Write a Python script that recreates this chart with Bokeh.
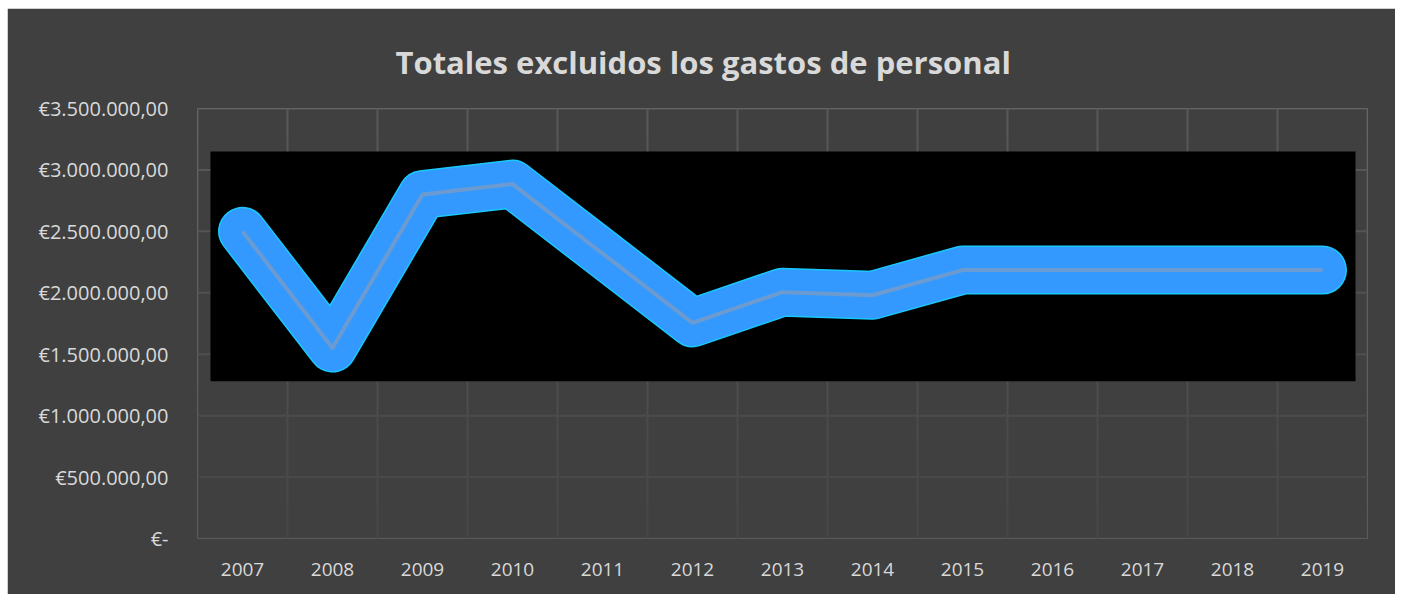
from bokeh.plotting import figure
from bokeh.models import FixedTicker, Range1d
from bokeh.embed import file_html
from bokeh.resources import INLINE

years = ["2007", "2008", "2009", "2010", "2011", "2012", "2013",
         "2014", "2015", "2016", "2017", "2018", "2019"]
totals = [2500000, 1550000, 2800000, 2885000, 2320000, 1755000, 2005000,
          1980000, 2185000, 2185000, 2185000, 2185000, 2185000]
y_ticks = [0, 500000, 1000000, 1500000, 2000000, 2500000, 3000000, 3500000]
y_labels = ["€-", "€500.000,00", "€1.000.000,00", "€1.500.000,00", "€2.000.000,00",
            "€2.500.000,00", "€3.000.000,00", "€3.500.000,00"]
title_text = "Totales excluidos los gastos de personal"

BG = "#404040"
TXT = "#d9d9d9"
FONT = "Open Sans"

xs = list(range(len(years)))
p = figure(width=1388, height=586, output_backend="svg", toolbar_location=None,
           x_range=Range1d(-0.5, len(years) - 0.5), y_range=Range1d(0, 3500000))
p.margin = (8, 0, 0, 7)
p.background_fill_color = BG
p.border_fill_color = BG
p.outline_line_color = None
p.min_border_left = 190
p.min_border_right = 28
p.min_border_top = 100
p.min_border_bottom = 56

p.title.text = title_text
p.title.align = "left"
p.title.text_color = TXT
p.title.text_font = FONT
p.title.text_font_size = "31px"
p.title.text_font_style = "bold"
p.title.standoff = 52
p.title.offset = 198

p.xgrid.grid_line_color = None
p.ygrid.grid_line_color = None

# gridlines with gradient fade (top brighter)
def shade(t):
    a = int(0x5a - (0x5a - 0x47) * t)
    return "#%02x%02x%02x" % (a, a, a)

for i, yv in enumerate(y_ticks):
    t = 1 - i / (len(y_ticks) - 1)
    p.segment(x0=-0.5, x1=len(years) - 0.5, y0=yv, y1=yv, line_color=shade(t), line_width=2)
nseg = 14
top = y_ticks[-1]
for k in range(len(years) + 1):
    xb = k - 0.5
    for s in range(nseg):
        y1 = top * (1 - s / nseg)
        y0 = top * (1 - (s + 1) / nseg)
        p.segment(x0=xb, x1=xb, y0=y0, y1=y1, line_color=shade((s + 0.5) / nseg), line_width=2)

# black backdrop panel behind the series
p.quad(left=-0.356, right=12.367, bottom=1280000, top=3150000,
       fill_color="black", line_color=None)

p.line(xs, totals, line_color="#19c8ff", line_width=49, line_join="round", line_cap="round")
p.line(xs, totals, line_color="#3399ff", line_width=46, line_join="round", line_cap="round")
p.line(xs, totals, line_color="#6b9bd0", line_width=4, line_join="round", line_cap="butt")

p.yaxis.ticker = FixedTicker(ticks=y_ticks)
p.yaxis.major_label_overrides = {t: l for t, l in zip(y_ticks, y_labels)}
p.xaxis.ticker = FixedTicker(ticks=xs)
p.xaxis.major_label_overrides = {i: y for i, y in enumerate(years)}
for ax in (p.xaxis, p.yaxis):
    ax.axis_line_color = None
    ax.major_tick_line_color = None
    ax.minor_tick_line_color = None
    ax.major_label_text_color = TXT
    ax.major_label_text_font = FONT
p.yaxis.major_label_text_font_size = "20px"
p.xaxis.major_label_text_font_size = "19px"
p.yaxis.major_label_standoff = 23
p.xaxis.major_label_standoff = 18

open("out.html", "w").write(file_html(p, INLINE))
